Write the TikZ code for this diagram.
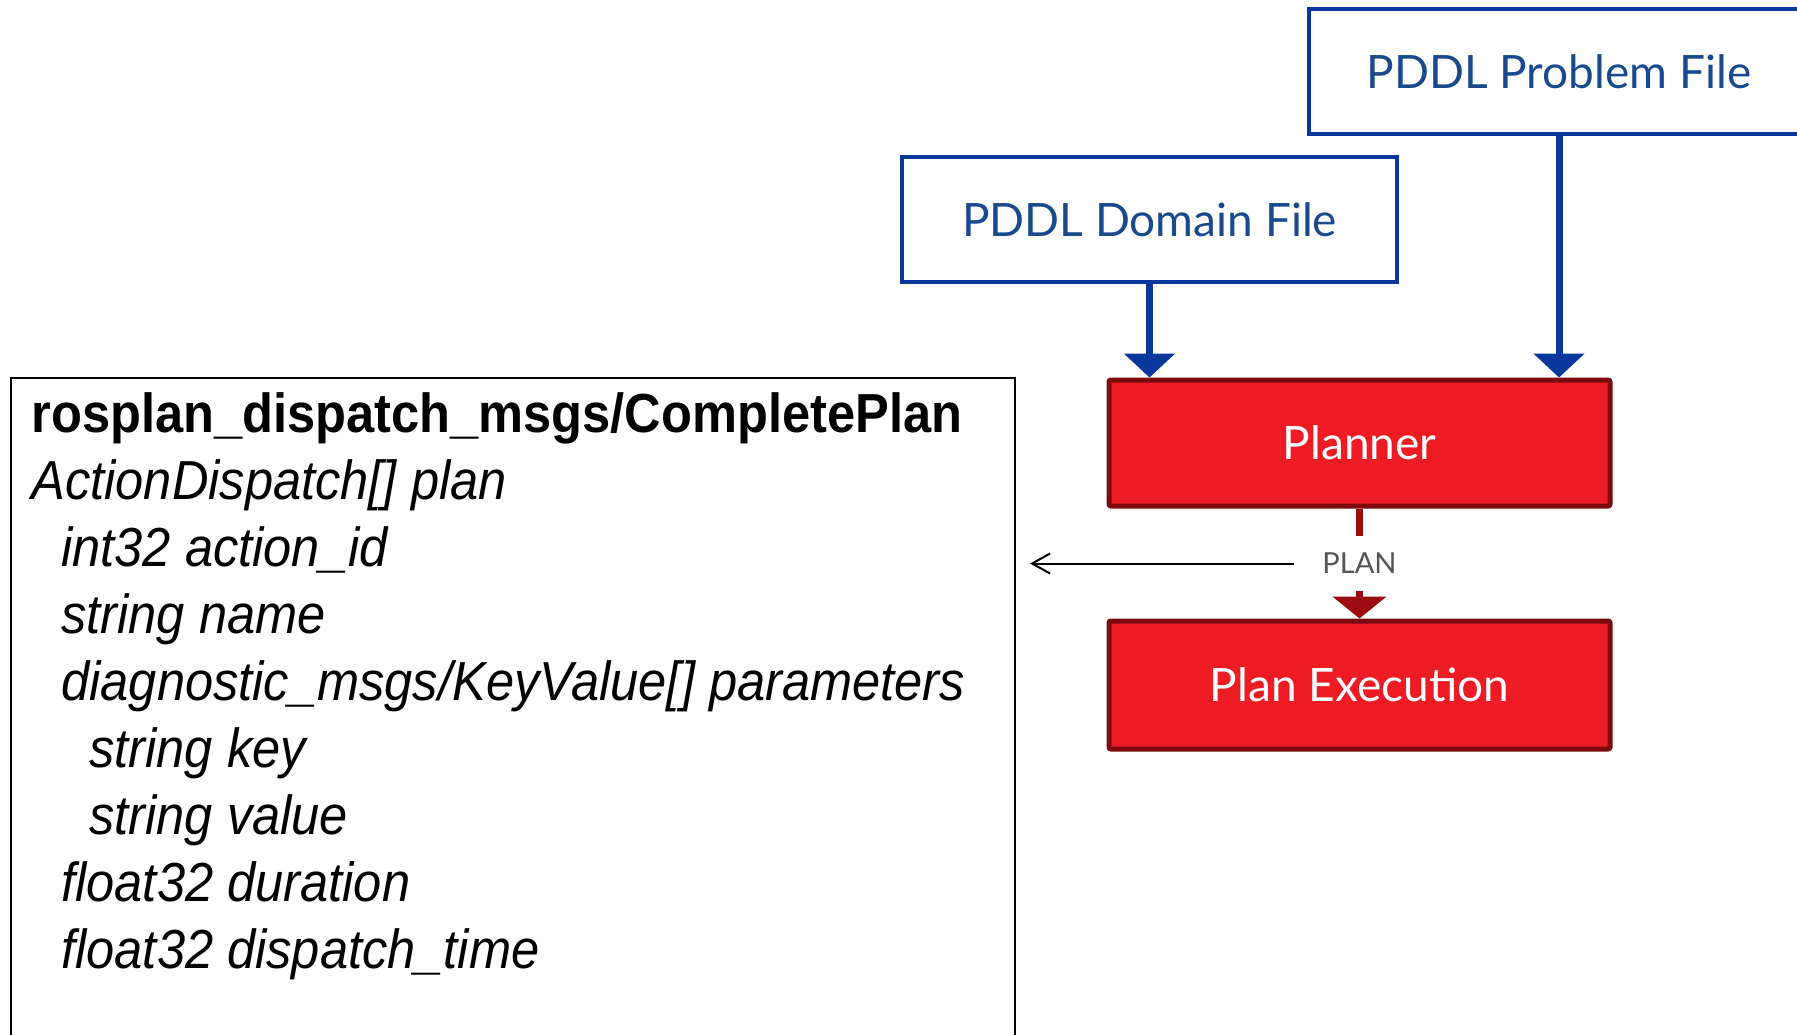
\documentclass[tikz,border=0pt]{standalone}
\usepackage{fontspec}
\setmainfont{Liberation Sans}
\newfontfamily\msgfont[FakeStretch=0.92]{Liberation Sans}
\newfontfamily\latofont{Lato}
\usetikzlibrary{arrows.meta}

\definecolor{fileline}{HTML}{0A379B}
\definecolor{filetext}{HTML}{1A4A8E}
\definecolor{procfill}{HTML}{ED1C24}
\definecolor{procline}{HTML}{7A0A0E}
\definecolor{flowred}{HTML}{9B0B10}
\definecolor{tagtext}{HTML}{555555}

\tikzset{
  filebox/.style={draw=fileline, line width=1.75pt, fill=white,
    minimum height=62.5pt, inner sep=0pt, text=filetext,
    font=\latofont\fontsize{23pt}{27pt}\selectfont},
  procbox/.style={draw=procline, line width=2.5pt, fill=procfill,
    rounded corners=1pt, minimum width=250.5pt, minimum height=63pt,
    inner sep=0pt, text=white,
    font=\latofont\fontsize{23pt}{27pt}\selectfont},
  feed/.style={draw=fileline, line width=3.5pt,
    -{Triangle[length=12pt,width=25pt]}},
  redflow/.style={draw=flowred, line width=3.5pt,
    -{Triangle[length=11pt,width=26.5pt]}},
  plantag/.style={fill=white, inner sep=0pt, minimum width=62pt,
    minimum height=27.5pt, text=tagtext,
    font=\latofont\fontsize{14.5pt}{17pt}\selectfont},
  reply/.style={draw=black, line width=1pt,
    -{Straight Barb[length=9pt,width=10pt]}, shorten >=7pt},
  msgbox/.style={draw=black, line width=1pt, inner sep=0pt,
    minimum width=502pt, minimum height=350pt},
  msgline/.style={anchor=base west, inner sep=0pt,
    font=\msgfont\fontsize{27.5pt}{33pt}\selectfont}
}

\begin{document}
\begin{tikzpicture}[x=0.5pt,y=-0.5pt]
\useasboundingbox (0,0) rectangle (1797,1034);
\clip (0,0) rectangle (1797,1034);

% input files
\node[filebox, minimum width=247.5pt] (dom) at (1149.5,219.5) {PDDL Domain File};
\node[filebox, minimum width=250pt] (prob) at (1559,71.5) {PDDL Problem File};

% planning components
\node[procbox] (planner) at (1359.5,443) {Planner};
\node[procbox, minimum height=64pt] (exec) at (1359.5,685) {Plan Execution};

\draw[feed] (dom.south) -- (dom.south |- planner.north);
\draw[feed] (prob.south) -- (prob.south |- planner.north);
\draw[redflow] (planner) -- node[plantag] (plan) {PLAN} (exec);

% message definition
\node[msgbox] (msg) at (513,728) {};
\node[msgline] (m1) at (31,432) {\bfseries rosplan\_dispatch\_msgs/CompletePlan};
\node[msgline] (m2) at (31,499) {\itshape ActionDispatch[] plan};
\node[msgline] (m3) at (61,566) {\itshape int32 action\_id};
\node[msgline] (m4) at (61,633) {\itshape string name};
\node[msgline] (m5) at (61,700) {\itshape diagnostic\_msgs/KeyValue[] parameters};
\node[msgline] (m6) at (89,767) {\itshape string key};
\node[msgline] (m7) at (89,834) {\itshape string value};
\node[msgline] (m8) at (61,901) {\itshape float32 duration};
\node[msgline] (m9) at (61,968) {\itshape float32 dispatch\_time};

\draw[reply] (plan.west) -- (plan.west -| msg.east);
\end{tikzpicture}
\end{document}
